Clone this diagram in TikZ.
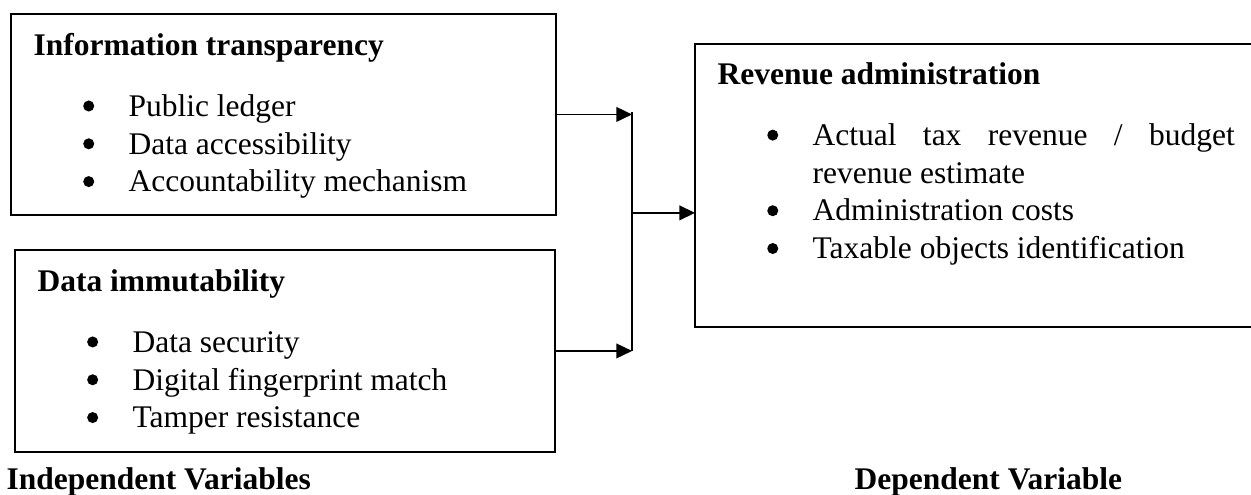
\documentclass[tikz,border=0pt]{standalone}
\usepackage{fontspec}
\setmainfont{Liberation Serif}
\usetikzlibrary{arrows.meta,positioning}

\hyphenpenalty=10000
\tolerance=10000

% round bullet, a bit larger than the font one
\newcommand{\bulletdot}{\tikz[baseline=-3.9pt]\fill (0,0) circle (2.1pt);}

% bullet list as in the boxes
\newenvironment{bullets}{\begin{list}{\bulletdot}{%
    \setlength{\leftmargin}{36.2pt}%
    \setlength{\labelwidth}{23pt}%
    \setlength{\labelsep}{13.1pt}%
    \setlength{\itemsep}{0pt}\setlength{\parsep}{0pt}%
    \setlength{\topsep}{0pt}\setlength{\partopsep}{0pt}}}{\end{list}}

\begin{document}
\begin{tikzpicture}[
    x=1pt,y=1pt,
    every node/.style={font=\fontsize{12}{14.4}\selectfont},
    varbox/.style={rectangle,draw=black,line width=0.75pt,inner sep=0pt,outer sep=0pt},
    boxtext/.style={inner sep=0pt,align=justify},
    caption/.style={inner sep=0pt,anchor=base west,font=\fontsize{12}{14.4}\selectfont\bfseries},
    arrow/.style={-{Triangle[length=6pt,width=5.6pt]},line width=0.7pt},
    link/.style={line width=0.7pt}
]

\clip (0,0) rectangle (476.6,188.2);

% =====================
% INDEPENDENT VARIABLES
% =====================
\node[varbox,anchor=north west,minimum width=207.6pt,minimum height=76.6pt] (transparency) at (4.2,182.9) {};
\node[boxtext,text width=190pt,below right=5.5pt and 8.4pt of transparency.north west] (transparencytxt) {
\strut\textbf{Information transparency}\par\vspace{8.8pt}
\begin{bullets}
\item Public ledger
\item Data accessibility
\item Accountability mechanism
\end{bullets}
};

\node[varbox,minimum width=205.7pt,minimum height=77pt,below right=13.3pt and 1.5pt of transparency.south west] (immutability) {};
\node[boxtext,text width=190pt,below right=5.5pt and 8.4pt of immutability.north west] (immutabilitytxt) {
\strut\textbf{Data immutability}\par\vspace{8.8pt}
\begin{bullets}
\item Data security
\item Digital fingerprint match
\item Tamper resistance
\end{bullets}
};

% =====================
% DEPENDENT VARIABLE
% =====================
\node[varbox,minimum width=216pt,minimum height=107.8pt,below right=11.4pt and 53pt of transparency.north east] (revenue) {};
\node[boxtext,text width=197pt,below right=5.2pt and 8.4pt of revenue.north west] (revenuetxt) {
\strut\textbf{Revenue administration}\par\vspace{8.8pt}
\begin{bullets}
\item Actual tax revenue / budget revenue estimate
\item Administration costs
\item Taxable objects identification
\end{bullets}
};

% =====================
% CONNECTORS
% =====================
\coordinate (jtop) at (240.8,145.5);
\coordinate (jmid) at (240.8,107.1);

\draw[link] (jtop) -- (jtop |- immutability);
\draw[arrow] (transparency) -- (transparency -| jtop);
\draw[arrow] (immutability) -- (immutability -| jtop);
\draw[arrow] (jmid) -- (jmid -| revenue.west);

% captions
\node[caption] (indep) at (2.3,1.9) {Independent Variables};
\node[caption] (dep) at (325.4,1.9) {Dependent Variable};

\end{tikzpicture}
\end{document}
